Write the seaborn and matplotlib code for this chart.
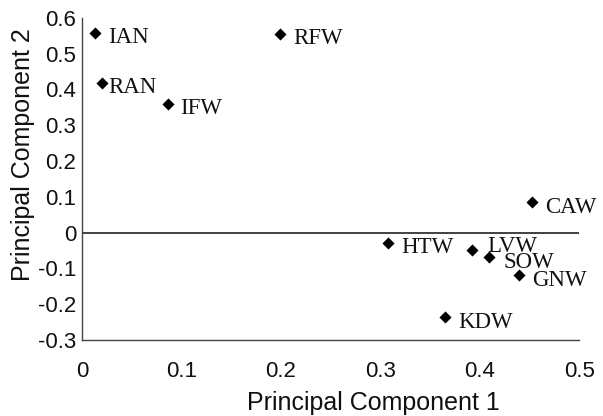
import matplotlib
matplotlib.use("Agg")
import matplotlib.pyplot as plt
import seaborn as sns
import pandas as pd

# Scores on the first two principal components
names = ['IAN', 'RAN', 'IFW', 'RFW', 'CAW', 'HTW', 'LVW', 'SOW', 'GNW', 'KDW']
pc1 = [0.013, 0.020, 0.086, 0.199, 0.452, 0.308, 0.392, 0.409, 0.439, 0.365]
pc2 = [0.559, 0.419, 0.360, 0.556, 0.084, -0.028, -0.050, -0.067, -0.120, -0.237]

xticks = [0, 0.1, 0.2, 0.3, 0.4, 0.5]
xticklabels = ['0', '0.1', '0.2', '0.3', '0.4', '0.5']
yticks = [0.6, 0.5, 0.4, 0.3, 0.2, 0.1, 0, -0.1, -0.2, -0.3]
yticklabels = ['0.6', '0.5', '0.4', '0.3', '0.2', '0.1', '0', '-0.1', '-0.2', '-0.3']

df = pd.DataFrame({'name': names, 'pc1': pc1, 'pc2': pc2})

sns.set_style('white')
plt.rcParams['font.family'] = ['Liberation Sans', 'DejaVu Sans']

fig = plt.figure(figsize=(6.03, 4.16), dpi=100)
ax = fig.add_axes([0.136, 0.183, 0.825, 0.774])

# zero line
ax.plot([0, 0.5], [0, 0], color='#333333', lw=1.3, zorder=1)

sns.scatterplot(data=df, x='pc1', y='pc2', marker='D', s=38, color='black',
                edgecolor='black', linewidth=0, ax=ax, zorder=3)

# label offsets in pixels (dx, dy)
offsets = {'RAN': (6, -5), 'LVW': (15, 4), 'SOW': (15, -6)}
for n, x, y in zip(names, pc1, pc2):
    dx, dy = offsets.get(n, (13, -5))
    ax.annotate(n, (x, y), xytext=(dx, dy), textcoords='offset pixels',
                ha='left', va='center', fontsize=16.5,
                family=['Liberation Serif', 'DejaVu Serif'], color='#111111')

ax.set_xlim(0, 0.5)
ax.set_ylim(-0.3, 0.6)
ax.set_xticks(xticks)
ax.set_xticklabels(xticklabels)
ax.set_yticks(yticks)
ax.set_yticklabels(yticklabels)

for side in ['top', 'right']:
    ax.spines[side].set_visible(False)
for side in ['left', 'bottom']:
    ax.spines[side].set_color('#444444')
    ax.spines[side].set_linewidth(1.0)

ax.tick_params(axis='both', direction='in', length=4, width=0.8,
               color='#444444', labelsize=16, labelcolor='#111111')
ax.tick_params(axis='x', pad=15)
ax.tick_params(axis='y', pad=4)

ax.set_xlabel('Principal Component 1', fontsize=18, color='#111111')
ax.set_ylabel('Principal Component 2', fontsize=18, color='#111111')
ax.xaxis.set_label_coords(0.585, -0.16)
ax.yaxis.set_label_coords(-0.095, 0.575)

fig.savefig('out.png', dpi=100)
